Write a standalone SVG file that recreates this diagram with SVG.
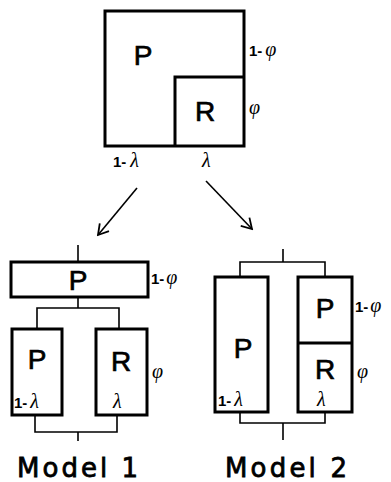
<svg xmlns="http://www.w3.org/2000/svg" width="391" height="482" viewBox="0 0 391 482">
<style>
.box{fill:none;stroke:#000;stroke-width:3;stroke-linejoin:miter}
.ln{fill:none;stroke:#000;stroke-width:1.6}
.big{font-family:"Liberation Sans",Arial,sans-serif;font-size:28px;text-anchor:middle;fill:#000;stroke:#000;stroke-width:0.7}
.one{font-family:"Liberation Sans",Arial,sans-serif;font-weight:bold;font-size:15px;fill:#000}
.gr{font-family:"Liberation Serif","Times New Roman",serif;font-style:italic;font-size:20px;fill:#000}
.mdl{font-family:"DejaVu Sans",sans-serif;font-size:26px;fill:#000;stroke:#000;stroke-width:0.8}
</style>
<defs>
<marker id="ah" markerWidth="14" markerHeight="14" refX="12" refY="7" orient="auto" markerUnits="userSpaceOnUse">
<polyline points="2,1 12,7 2,13" fill="none" stroke="#000" stroke-width="1.8"/>
</marker>
</defs>
<g id="top">
<rect class="box" x="105" y="11" width="139" height="135"/>
<path class="box" d="M175,146 V77 H244"/>
<text class="big" x="143" y="65">P</text>
<text class="big" x="205" y="121">R</text>
<text x="249" y="56"><tspan class="one">1-</tspan><tspan class="gr" dx="3">φ</tspan></text>
<text class="gr" x="249" y="114">φ</text>
<text x="113" y="167"><tspan class="one">1-</tspan><tspan class="gr" dx="4">λ</tspan></text>
<text class="gr" x="202" y="167">λ</text>
</g>
<g id="connectors">
<line class="ln" x1="137" y1="188" x2="98" y2="235" marker-end="url(#ah)"/>
<line class="ln" x1="206" y1="181" x2="252" y2="229" marker-end="url(#ah)"/>
<path class="ln" d="M78,245 V262"/>
<path class="ln" d="M78,297 V308 M37,329 V308 H119 V329"/>
<path class="ln" d="M35,415 V432 H117 V415 M78,432 V441"/>
<path class="ln" d="M283,249 V262 M240,277 V262 H325 V277"/>
<path class="ln" d="M240,412 V423 H325 V412 M283,423 V440"/>
</g>
<g id="model1">
<rect class="box" x="11" y="262" width="137" height="35"/>
<text class="big" x="78" y="290">P</text>
<text x="151" y="284"><tspan class="one">1-</tspan><tspan class="gr" dx="2">φ</tspan></text>
<rect class="box" x="12" y="329" width="50" height="86"/>
<rect class="box" x="96" y="329" width="51" height="86"/>
<text class="big" x="37" y="369">P</text>
<text class="big" x="121" y="371">R</text>
<text class="gr" x="152" y="378">φ</text>
<text x="14" y="408"><tspan class="one">1-</tspan><tspan class="gr" dx="3">λ</tspan></text>
<text class="gr" x="113" y="408">λ</text>
<text class="mdl" x="17" y="477" textLength="121" lengthAdjust="spacing">Model 1</text>
</g>
<g id="model2">
<rect class="box" x="215" y="277" width="53" height="135"/>
<rect class="box" x="298" y="277" width="54" height="135"/>
<path class="box" d="M298,343 H352"/>
<text class="big" x="243" y="358">P</text>
<text class="big" x="325" y="318">P</text>
<text class="big" x="325" y="379">R</text>
<text x="355" y="312"><tspan class="one">1-</tspan><tspan class="gr" dx="2">φ</tspan></text>
<text class="gr" x="357" y="378">φ</text>
<text x="218" y="406"><tspan class="one">1-</tspan><tspan class="gr" dx="3">λ</tspan></text>
<text class="gr" x="317" y="406">λ</text>
<text class="mdl" x="225" y="477" textLength="122" lengthAdjust="spacing">Model 2</text>
</g>
</svg>
